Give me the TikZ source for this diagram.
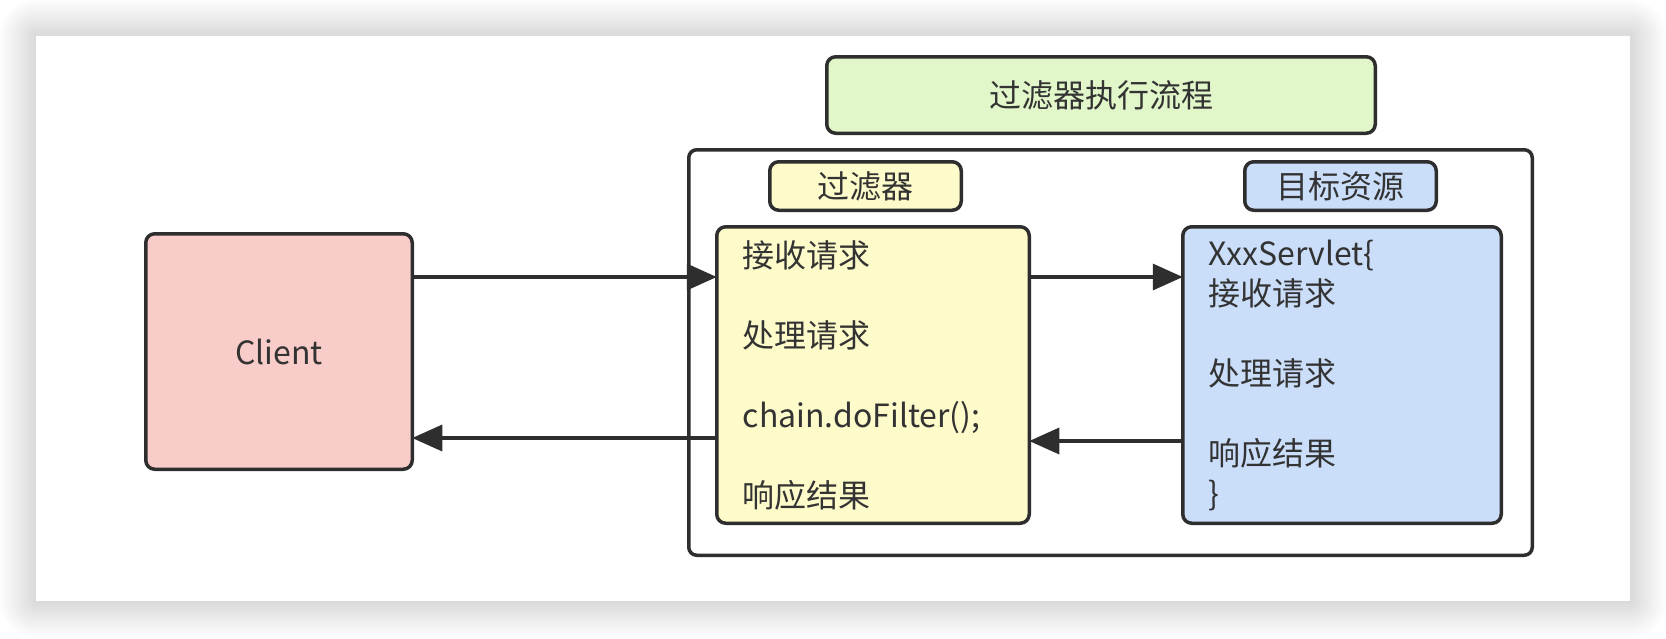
\documentclass[tikz,border=0pt]{standalone}
\usepackage{fontspec}
\setmainfont{Noto Sans CJK SC}
\usepackage{xcolor}
\usepackage{tikz}
\usetikzlibrary{arrows.meta}

\definecolor{linegray}{HTML}{2E2E2E}
\definecolor{textgray}{HTML}{333333}
\definecolor{clientred}{HTML}{F8CCC9}
\definecolor{filteryellow}{HTML}{FDFBCA}
\definecolor{targetblue}{HTML}{CADEFA}
\definecolor{titlegreen}{HTML}{E1F6C9}

\begin{document}
\begin{tikzpicture}[x=1pt, y=-1pt,
    box/.style={draw=linegray, line width=3.5pt, rounded corners=9pt, text=textgray, font=\fontsize{32}{40}\selectfont, inner sep=0pt, outer sep=0pt, text centered},
    codebox/.style={box, inner xsep=26pt, align=left},
    flow/.style={draw=linegray, line width=3.5pt, -{Triangle[length=30pt, width=26pt]}}]
            \useasboundingbox (0,0) rectangle (1666,638);
            % page, card and its shadow
            \fill[white] (0,0) rectangle (1666,638);
            \foreach \r in {1,...,12}
                \fill[black, opacity=0.012, rounded corners=\r*3pt] ({36-3*\r},{36-3*\r}) rectangle ({1630+3*\r},{601+3*\r});
            \fill[white] (36,36) rectangle (1630,601);
            % frame round filter and target
            \node[draw=linegray, line width=3.5pt, rounded corners=8pt, fill=white, minimum width=843.5pt, minimum height=405.5pt] (Frame) at (1110.5,352.5) {};
            \node[box, fill=titlegreen, minimum width=548.5pt, minimum height=76.5pt] (Title) at (1101,95) {过滤器执行流程};
            \node[box, fill=filteryellow, minimum width=191.5pt, minimum height=48.5pt] (FilterLabel) at (865.5,186) {过滤器};
            \node[box, fill=targetblue, minimum width=191.5pt, minimum height=48.5pt] (TargetLabel) at (1340.5,186) {目标资源};
            \node[box, fill=clientred, minimum width=266.5pt, minimum height=235.5pt] (Client) at (279,351.5) {Client};
            \node[codebox, fill=filteryellow, text width=260.5pt, minimum height=296.5pt] (Filter) at (873,375) {接收请求\\[40pt]处理请求\\[40pt]chain.doFilter();\\[40pt]响应结果};
            \node[codebox, fill=targetblue, text width=266.5pt, minimum height=296.5pt] (Target) at (1342,375) {XxxServlet\{\\接收请求\\[40pt]处理请求\\[40pt]响应结果\\\}};
            % request and response
            \draw[flow] ([yshift=74.5pt]Client.east) -- ([yshift=98pt]Filter.west);
            \draw[flow] ([yshift=98pt]Filter.east) -- ([yshift=98pt]Target.west);
            \draw[flow] ([yshift=-66pt]Target.west) -- ([yshift=-66pt]Filter.east);
            \draw[flow] ([yshift=-63pt]Filter.west) -- ([yshift=-86.5pt]Client.east);
\end{tikzpicture}
\end{document}
